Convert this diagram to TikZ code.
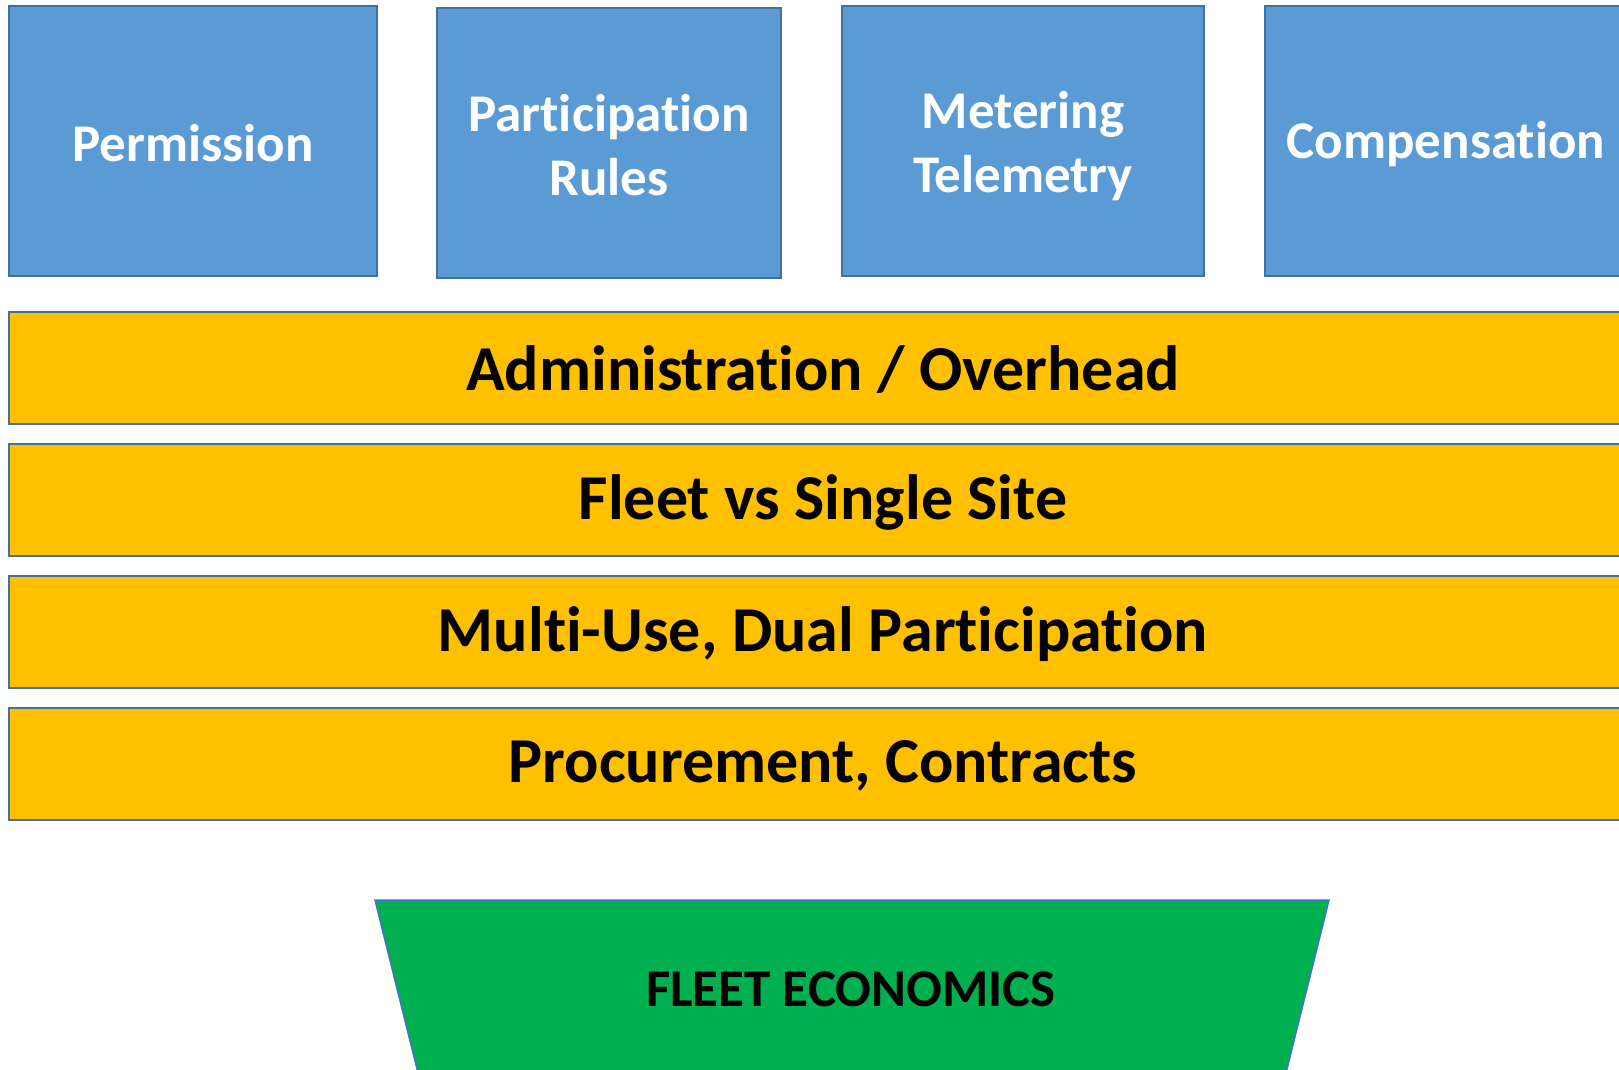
\documentclass[tikz,border=0pt]{standalone}
\usepackage{fontspec}
\setmainfont[Ligatures=NoCommon]{Carlito}
\definecolor{boxblue}{HTML}{5B9BD5}
\definecolor{edgeblue}{HTML}{41719C}
\definecolor{baryellow}{HTML}{FFC000}
\definecolor{fleetgreen}{HTML}{00B050}
\definecolor{trapedge}{HTML}{4472C4}
\begin{document}
\begin{tikzpicture}[x=1pt,y=-1pt,
  topbox/.style={draw=edgeblue, line width=2pt, fill=boxblue},
  barbox/.style={draw=edgeblue, line width=2pt, fill=baryellow},
  barlabel/.style={font=\bfseries\fontsize{64}{76}\selectfont, text=black},
  toplabel/.style={font=\bfseries\fontsize{53}{64}\selectfont, text=white, align=center},
]
\useasboundingbox (0,0) rectangle (1619,1070);
% top boxes
\draw[topbox] (9,6) rectangle (377,276);
\node[toplabel] (perm) at (193,143) {Permission};
\draw[topbox] (437,8) rectangle (781,278);
\node[toplabel] (part) at (609,145) {Participation\\Rules};
\draw[topbox] (842,6) rectangle (1204,276);
\node[toplabel] (meter) at (1023,146) {Metering\\Telemetry};
\draw[topbox] (1265,6) rectangle (1632,276);
\node[toplabel] (comp) at (1446,144) {Compensation};
% bars
\draw[barbox] (9,312) rectangle (1640,424);
\node[barlabel] (admin) at (823,369) {Administration / Overhead};
\draw[barbox] (9,444) rectangle (1640,556);
\node[barlabel] (fleet) at (823,502) {Fleet vs Single Site};
\draw[barbox] (9,576) rectangle (1640,688);
\node[barlabel] (multi) at (823,634) {Multi-Use, Dual Participation};
\draw[barbox] (9,708) rectangle (1640,820);
\node[barlabel] (proc) at (823,766) {Procurement, Contracts};
% trapezoid
\draw[draw=trapedge, line width=1.5pt, fill=fleetgreen]
  (375,900) -- (1329,900) -- (1283,1085) -- (421,1085) -- cycle;
\node[font=\bfseries\fontsize{53}{64}\selectfont, text=black] (econ) at (851,989) {FLEET ECONOMICS};
\end{tikzpicture}
\end{document}
